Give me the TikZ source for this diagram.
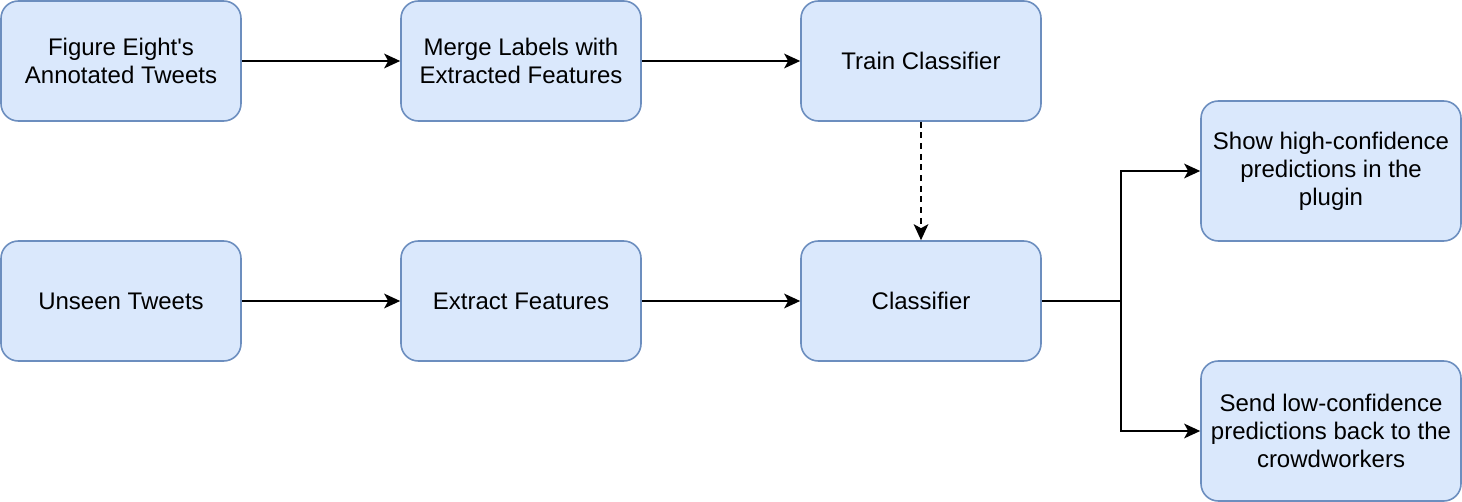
\documentclass[tikz,border=0pt]{standalone}
\usepackage{fontspec}
\setmainfont{Liberation Sans}[Ligatures=TeXOff]
\usetikzlibrary{arrows.meta}
\definecolor{boxfill}{HTML}{DAE8FC}
\definecolor{boxline}{HTML}{6C8EBF}
\begin{document}
\begin{tikzpicture}[x=0.75pt,y=-0.75pt,
  box/.style={draw=boxline, fill=boxfill, line width=1.2pt, rounded corners=13pt,
    minimum width=180pt, minimum height=90pt, align=center, inner sep=0pt,
    font=\fontsize{18}{21}\selectfont},
  bigbox/.style={box, minimum width=195pt, minimum height=105pt},
  conn/.style={line width=1.5pt, -{Stealth[length=12pt,width=11pt,inset=3pt]}}
]
\useasboundingbox (0,0) rectangle (1462,502);
\node[box] (a) at (121,61) {Figure Eight's\\Annotated Tweets};
\node[box] (b) at (521,61) {Merge Labels with\\Extracted Features};
\node[box] (c) at (921,61) {Train Classifier};
\node[box] (d) at (121,301) {Unseen Tweets};
\node[box] (e) at (521,301) {Extract Features};
\node[box] (f) at (921,301) {Classifier};
\node[bigbox] (g) at (1331,171) {Show high-confidence\\predictions in the\\plugin};
\node[bigbox] (h) at (1331,431) {Send low-confidence\\predictions back to the\\crowdworkers};
\coordinate (j) at (1121,301);
\draw[conn] (a) -- (b);
\draw[conn] (b) -- (c);
\draw[conn] (d) -- (e);
\draw[conn] (e) -- (f);
\draw[conn, dash pattern=on 4.5pt off 3.5pt] (c) -- (f);
\draw[line width=1.5pt] (f.east) -- (j);
\draw[conn] (j) |- (g.west);
\draw[conn] (j) |- (h.west);
\end{tikzpicture}
\end{document}
